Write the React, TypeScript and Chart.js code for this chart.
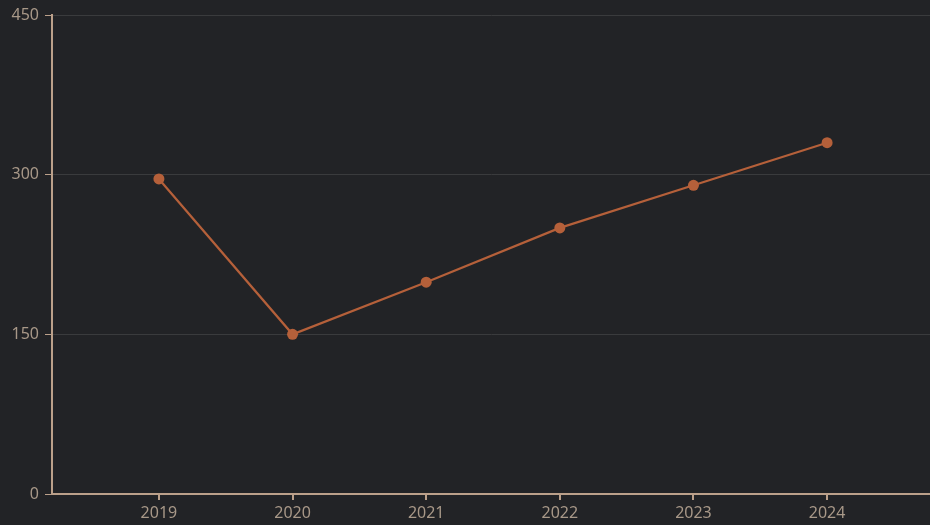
import React, { useEffect, useRef } from "react";
import { Chart, registerables } from "chart.js";

Chart.register(...registerables);

const years = ["2019", "2020", "2021", "2022", "2023", "2024"];
const values = [296, 150, 199, 250, 290, 330];
const yTicks = [0, 150, 300, 450];

const LINE = "#b5603a";
const AXIS = "#bba08a";
const LABEL = "#a89888";
const GRID = "#3a3b3d";
const BG = "#222326";
const FONT = { family: "'Noto Sans', sans-serif", size: 16 };

export default function App() {
  const ref = useRef<HTMLCanvasElement | null>(null);
  useEffect(() => {
    document.body.style.margin = "0";
    document.body.style.background = BG;
    const ctx = ref.current!;
    const chart = new Chart(ctx, {
      type: "line",
      data: {
        datasets: [
          {
            data: values.map((v, i) => ({ x: i, y: v })),
            borderColor: LINE,
            backgroundColor: LINE,
            borderWidth: 2.2,
            pointRadius: 5.5,
            pointHoverRadius: 5.5,
            pointBackgroundColor: LINE,
            pointBorderWidth: 0,
            tension: 0,
            clip: false,
          },
        ],
      },
      options: {
        animation: false,
        responsive: false,
        maintainAspectRatio: false,
        layout: { autoPadding: false, padding: { top: 15, right: 0, left: 0, bottom: 0 } },
        plugins: { legend: { display: false }, tooltip: { enabled: false } },
        scales: {
          x: {
            type: "linear",
            min: -0.8,
            max: 5.77,
            afterFit: (axis: any) => {
              axis.height = 31;
              axis.paddingLeft = 0;
              axis.paddingRight = 0;
            },
            ticks: {
              stepSize: 1,
              includeBounds: false,
              autoSkip: false,
              maxRotation: 0,
              color: LABEL,
              font: FONT,
              padding: 4,
              callback: (v: any) => years[v as number] ?? "",
            },
            grid: {
              drawOnChartArea: false,
              drawTicks: true,
              tickLength: 6,
              tickColor: AXIS,
              lineWidth: 2,
            },
            border: { color: AXIS, width: 2 },
          },
          y: {
            min: yTicks[0],
            max: yTicks[yTicks.length - 1],
            afterBuildTicks: (axis: any) => {
              axis.ticks = yTicks.map((v) => ({ value: v }));
            },
            afterFit: (axis: any) => {
              axis.width = 52;
              axis.paddingTop = 0;
              axis.paddingBottom = 0;
            },
            ticks: {
              color: LABEL,
              font: FONT,
              padding: 6,
            },
            grid: {
              color: GRID,
              lineWidth: 1,
              tickColor: AXIS,
              tickLength: 7,
            },
            border: { color: AXIS, width: 2 },
          },
        },
      },
      plugins: [
        {
          id: "bg",
          beforeDraw: (c: any) => {
            const g = c.ctx;
            g.save();
            g.fillStyle = BG;
            g.fillRect(0, 0, c.width, c.height);
            g.restore();
          },
        },
      ],
    });
    return () => chart.destroy();
  }, []);
  return (
    <div style={{ width: 930, height: 525, background: BG }}>
      <canvas ref={ref} width={930} height={525} style={{ display: "block" }} />
    </div>
  );
}
